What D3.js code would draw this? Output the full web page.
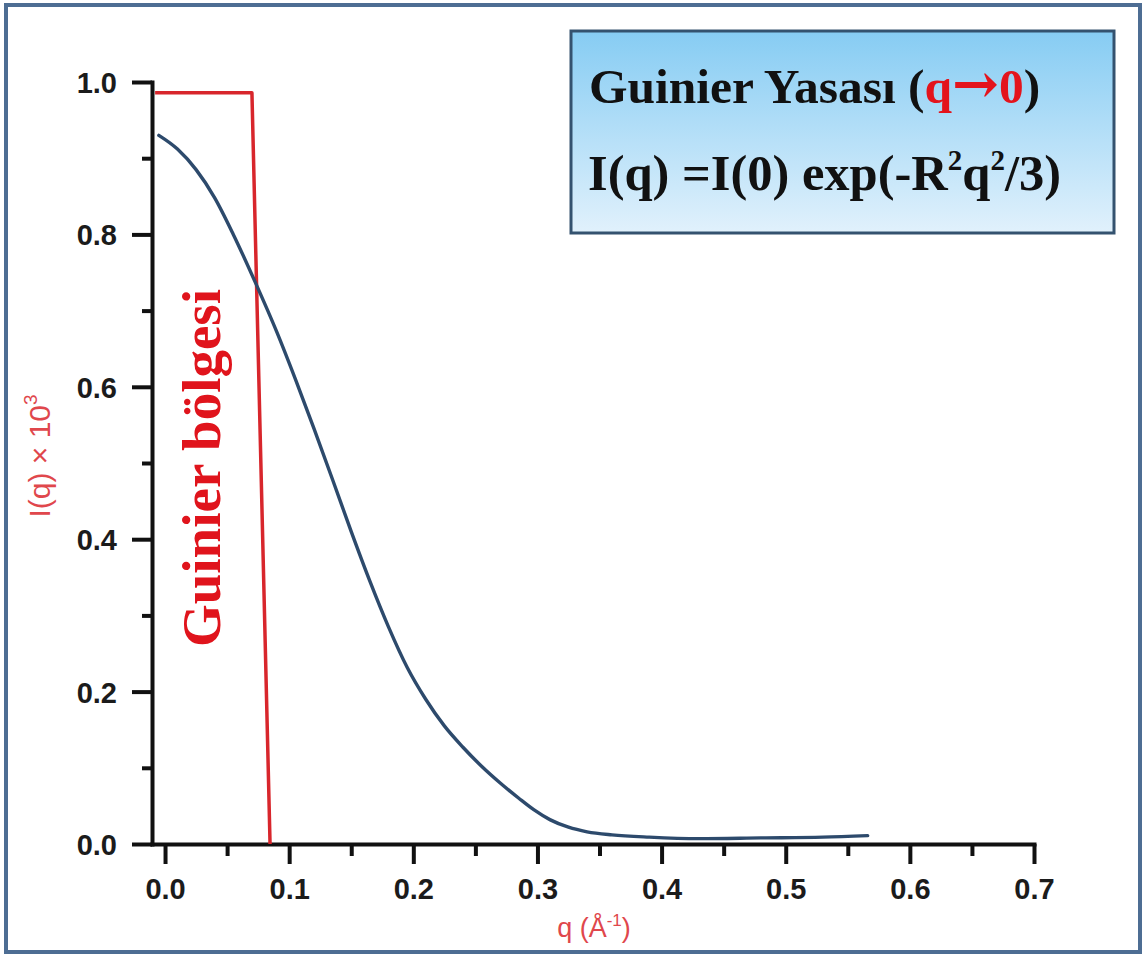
<!DOCTYPE html>
<html>
<head>
<meta charset="utf-8">
<script src="https://cdn.jsdelivr.net/npm/d3@7"></script>
<style>
  body { margin: 0; background: #fff; }
  svg { display: block; }
</style>
</head>
<body>
<script>
const width = 1144;
const height = 956;

// tick values and labels
const xMajor = [0, 0.1, 0.2, 0.3, 0.4, 0.5, 0.6, 0.7];
const xMinor = [0.05, 0.15, 0.25, 0.35, 0.45, 0.55, 0.65];
const xTickLabels = ['0.0', '0.1', '0.2', '0.3', '0.4', '0.5', '0.6', '0.7'];
const yMajor = [0, 0.2, 0.4, 0.6, 0.8, 1.0];
const yMinor = [0.1, 0.3, 0.5, 0.7, 0.9];
const yTickLabels = ['0.0', '0.2', '0.4', '0.6', '0.8', '1.0'];

// scattering curve I(q)
const curveQ = [-0.005, 0.010, 0.025, 0.040, 0.055, 0.073, 0.090, 0.105, 0.120, 0.135,
    0.150, 0.165, 0.180, 0.195, 0.210, 0.225, 0.240, 0.255, 0.270, 0.285,
    0.297, 0.310, 0.325, 0.340, 0.360, 0.390, 0.430, 0.480, 0.530, 0.566];
const curveI = [0.930, 0.912, 0.885, 0.848, 0.800, 0.736, 0.672, 0.610, 0.545, 0.478,
    0.410, 0.345, 0.285, 0.232, 0.190, 0.155, 0.127, 0.102, 0.080, 0.060,
    0.045, 0.032, 0.022, 0.016, 0.012, 0.009, 0.007, 0.008, 0.009, 0.011];

// Guinier region outline
const regionQ = [-0.008, 0.070, 0.0846];
const regionI = [0.986, 0.986, 0];

const svg = d3.select('body')
    .append('svg')
    .attr('width', width)
    .attr('height', height);

// outer frame
svg.append('rect')
    .attr('x', 6).attr('y', 5)
    .attr('width', 1134).attr('height', 947)
    .attr('fill', '#fff')
    .attr('stroke', '#4d6d93')
    .attr('stroke-width', 4);

const x = d3.scaleLinear()
    .domain([-0.0105, 0.7])
    .range([152, 1034]);
const y = d3.scaleLinear()
    .domain([0, 1])
    .range([844, 82]);

const axisColor = '#111';

// x axis
const gx = svg.append('g')
    .attr('transform', `translate(0, ${y(0)})`);
gx.call(d3.axisBottom(x).tickValues(xMajor).tickSize(20).tickSizeOuter(0)
    .tickFormat((d, i) => xTickLabels[i]));
gx.append('g').call(d3.axisBottom(x).tickValues(xMinor).tickSize(12).tickFormat(''))
    .select('.domain').remove();

// y axis
const gy = svg.append('g')
    .attr('transform', `translate(${x.range()[0]}, 0)`);
gy.call(d3.axisLeft(y).tickValues(yMajor).tickSize(20).tickSizeOuter(0)
    .tickFormat((d, i) => yTickLabels[i]));
gy.append('g').call(d3.axisLeft(y).tickValues(yMinor).tickSize(10).tickFormat(''))
    .select('.domain').remove();

svg.selectAll('.domain')
    .attr('stroke', axisColor)
    .attr('stroke-width', 4)
    .attr('stroke-linecap', 'square');
svg.selectAll('.tick line')
    .attr('stroke', axisColor)
    .attr('stroke-width', 4);
svg.selectAll('.tick text')
    .attr('fill', '#1b1b1b')
    .attr('font-family', '"Liberation Sans", Arial, sans-serif')
    .attr('font-weight', 'bold')
    .attr('font-size', 29);
gx.selectAll('.tick text').attr('dy', '1.1em');
gy.selectAll('.tick text').attr('x', -35).attr('dy', '0.36em');

// Guinier region
const regionLine = d3.line()
    .x((d, i) => x(regionQ[i]))
    .y((d, i) => y(regionI[i]));
svg.append('path')
    .attr('d', regionLine(regionQ))
    .attr('fill', 'none')
    .attr('stroke', '#d8262c')
    .attr('stroke-width', 3.5)
    .attr('stroke-linejoin', 'round');

// curve
const curveLine = d3.line()
    .x((d, i) => x(curveQ[i]))
    .y((d, i) => y(curveI[i]))
    .curve(d3.curveMonotoneX);
svg.append('path')
    .attr('d', curveLine(curveQ))
    .attr('fill', 'none')
    .attr('stroke', '#2d4a6c')
    .attr('stroke-width', 3.4)
    .attr('stroke-linecap', 'round');

// rotated region label
svg.append('text')
    .attr('transform', 'translate(220, 468) rotate(-90)')
    .attr('text-anchor', 'middle')
    .attr('font-family', '"Liberation Serif", "Times New Roman", serif')
    .attr('font-weight', 'bold')
    .attr('font-size', 55)
    .attr('fill', '#e0141c')
    .text('Guinier bölgesi');

// axis titles
const yTitle = svg.append('text')
    .attr('transform', 'translate(50, 456) rotate(-90)')
    .attr('text-anchor', 'middle')
    .attr('font-family', '"Liberation Sans", Arial, sans-serif')
    .attr('font-size', 30)
    .attr('fill', '#e0474c');
yTitle.append('tspan').text('I(q) × 10');
yTitle.append('tspan').attr('font-size', 19).attr('dy', -13).text('3');

const xTitle = svg.append('text')
    .attr('x', 594).attr('y', 937)
    .attr('text-anchor', 'middle')
    .attr('font-family', '"Liberation Sans", Arial, sans-serif')
    .attr('font-size', 27)
    .attr('fill', '#e0474c');
xTitle.append('tspan').text('q (Å');
xTitle.append('tspan').attr('font-size', 17).attr('dy', -11).text('-1');
xTitle.append('tspan').attr('dy', 11).text(')');

// formula box
const defs = svg.append('defs');
const grad = defs.append('linearGradient')
    .attr('id', 'boxGrad')
    .attr('x1', 0).attr('y1', 0).attr('x2', 0).attr('y2', 1);
grad.append('stop').attr('offset', '0%').attr('stop-color', '#86ccf3');
grad.append('stop').attr('offset', '100%').attr('stop-color', '#e1f1fc');

svg.append('rect')
    .attr('x', 571).attr('y', 31)
    .attr('width', 543).attr('height', 202)
    .attr('fill', 'url(#boxGrad)')
    .attr('stroke', '#34526f')
    .attr('stroke-width', 3);

const serif = '"Liberation Serif", "Times New Roman", serif';
const line1 = svg.append('text')
    .attr('x', 589).attr('y', 103)
    .attr('font-family', serif)
    .attr('font-weight', 'bold')
    .attr('font-size', 49.5)
    .attr('fill', '#111');
line1.append('tspan').text('Guinier Yasası (');
line1.append('tspan').attr('fill', '#e3141c').text('q');
line1.append('tspan').attr('fill', '#e3141c')
    .attr('font-family', '"DejaVu Serif", serif').attr('font-size', 56).text('→');
line1.append('tspan').attr('fill', '#e3141c').text('0');
line1.append('tspan').text(')');

const line2 = svg.append('text')
    .attr('x', 588).attr('y', 190)
    .attr('font-family', serif)
    .attr('font-weight', 'bold')
    .attr('font-size', 50.5)
    .attr('fill', '#111');
line2.append('tspan').text('I(q) =I(0) exp(-R');
line2.append('tspan').attr('font-size', 29).attr('dy', -20).text('2');
line2.append('tspan').attr('dy', 20).text('q');
line2.append('tspan').attr('font-size', 29).attr('dy', -20).text('2');
line2.append('tspan').attr('dy', 20).text('/3)');
</script>
</body>
</html>
